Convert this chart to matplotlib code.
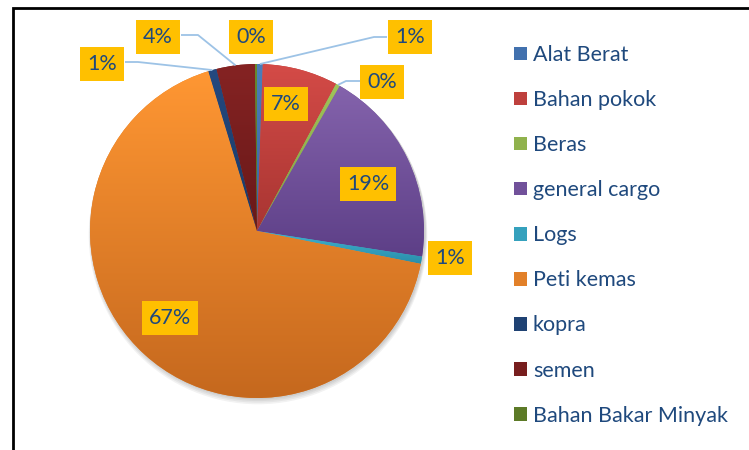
import matplotlib
matplotlib.use("Agg")
import matplotlib.pyplot as plt
import matplotlib.patches as mpatches
from matplotlib.colors import to_rgb
import numpy as np

categories = ["Alat Berat", "Bahan pokok", "Beras", "general cargo", "Logs",
              "Peti kemas", "kopra", "semen", "Bahan Bakar Minyak"]
values = [0.55, 7.3, 0.4, 19.2, 0.7, 67.15, 0.8, 3.7, 0.2]
top_colors = ["#4A7EBB", "#D44B47", "#A0C45A", "#8463AC", "#3FB4D0",
              "#FF9733", "#24497F", "#852323", "#6A8A2E"]
bot_colors = ["#3A64A0", "#A83532", "#7FA040", "#5D3F87", "#2A8DAA",
              "#C5681E", "#1A3A66", "#681818", "#4E6A20"]
# label box centres (pixels from top-left) and leader lines
label_pos = [(410, 37), (286, 104), (382, 82), (368, 184), (450, 258),
             (170, 318), (102, 64), (158, 37), (251, 37)]
leaders = {0: [(387, 37), (374, 37)], 2: [(360, 81), (346, 81)],
           6: [(125, 62), (138, 62)], 7: [(181, 35), (198, 35)]}

W, H = 749, 450
fig = plt.figure(figsize=(W / 100, H / 100), dpi=100)
ax = fig.add_axes([0, 0, 1, 1])
cx, cy, R = 257, H - 231, 167

plt.rcParams['font.family'] = ['Lato', 'DejaVu Sans']
txt_color = "#1F497D"

# soft shadow
for i, a in enumerate([0.05, 0.05, 0.05, 0.05]):
    ax.add_patch(mpatches.Circle((cx + 1, cy - 1 - i * 1.0), R + 0.5 + i * 0.6,
                                 facecolor="#000000", alpha=a, lw=0, zorder=0))

mid = [tuple((np.array(to_rgb(a)) + np.array(to_rgb(b))) / 2)
       for a, b in zip(top_colors, bot_colors)]
wedges, _ = ax.pie(values, colors=mid, startangle=90, counterclock=False,
                   center=(cx, cy), radius=R, wedgeprops=dict(linewidth=0),
                   normalize=True)
for w, t, b in zip(wedges, top_colors, bot_colors):
    w.set_zorder(1)
    ext = w.get_path().get_extents()
    n = 256
    tt = np.linspace(0, 1, n)[:, None]
    grad = (1 - tt) * np.array(to_rgb(b)) + tt * np.array(to_rgb(t))
    img = ax.imshow(grad[:, None, :], extent=(ext.x0, ext.x1, ext.y0, ext.y1),
                    origin="lower", aspect="auto", zorder=2, interpolation="bilinear")
    img.set_clip_path(w)

# leader lines
cum = np.cumsum([0] + values[:-1])
tot = sum(values)
for i, pts in leaders.items():
    ang = np.deg2rad(90 - 360 * (cum[i] + values[i] / 2) / tot)
    px, py = cx + R * np.cos(ang), cy + R * np.sin(ang)
    xs = [p[0] for p in pts] + [px]
    ys = [H - p[1] for p in pts] + [py]
    ax.plot(xs, ys, color="#9DC3E6", lw=1.3, zorder=3, solid_capstyle="butt")

# data labels
for v, (lx, ly) in zip(values, label_pos):
    ax.text(lx, H - ly, f"{int(v + 0.5)}%", ha="center", va="center",
            fontsize=15.5, color=txt_color, zorder=5,
            bbox=dict(boxstyle="square,pad=0.34", fc="#FFC000", ec="none"))

handles = [mpatches.Patch(facecolor=c, edgecolor="none") for c in mid]
fs = 15.5
leg = ax.legend(handles, categories, loc="upper left",
                bbox_to_anchor=(514 / W, 1 - 45 / H), frameon=False,
                fontsize=fs, labelcolor=txt_color, handlelength=0.6,
                handleheight=0.6, handletextpad=0.28, labelspacing=1.165,
                borderaxespad=0, borderpad=0)

# outer frame
ax.add_patch(mpatches.Rectangle((13, -10), W + 20, H - 7.5 + 10, fill=False,
                                edgecolor="black", lw=2, zorder=6))

ax.set_xlim(0, W)
ax.set_ylim(0, H)
ax.axis("off")
fig.savefig("out.png", dpi=100)
